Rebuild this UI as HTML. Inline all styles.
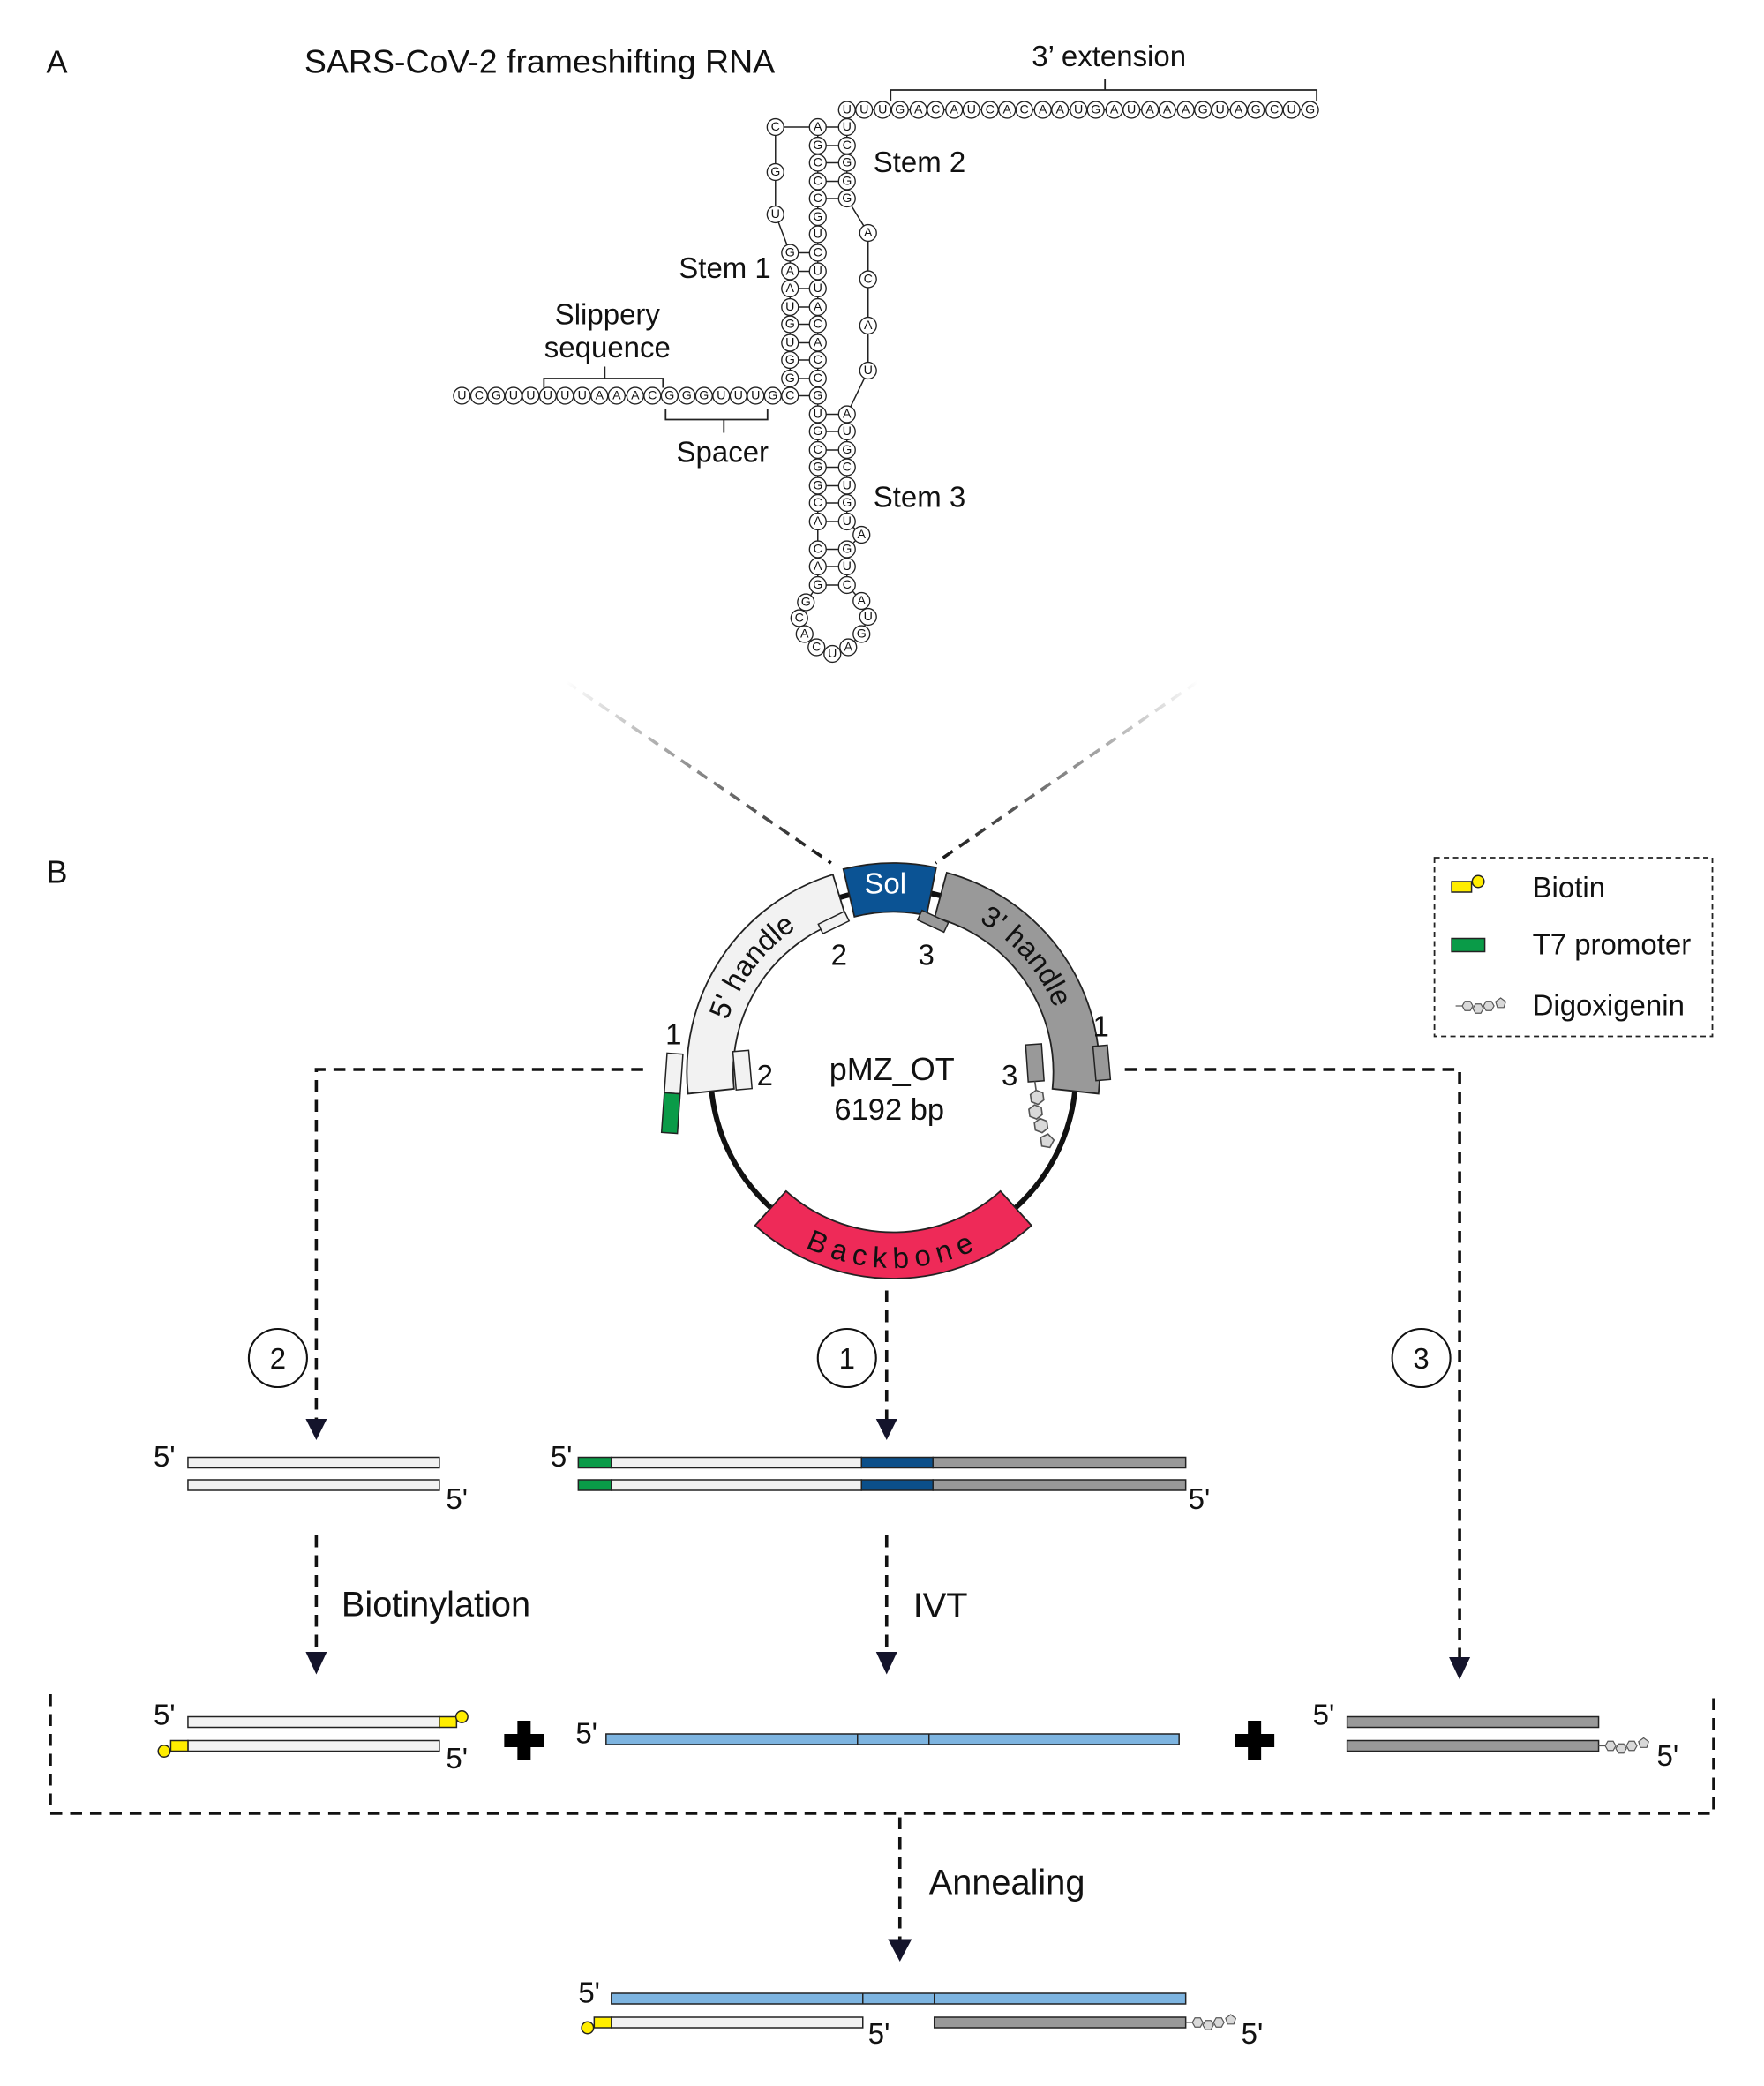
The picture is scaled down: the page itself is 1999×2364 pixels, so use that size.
<!DOCTYPE html>
<html><head><meta charset="utf-8"><style>
html,body{margin:0;padding:0;background:#fff}
svg{display:block}
text{font-family:"Liberation Sans",Arial,sans-serif;fill:#111}
.n circle{fill:#fff;stroke:#222;stroke-width:0.9}
.n text{font-size:9.5px;text-anchor:middle;dominant-baseline:central}
.lb{font-size:22px}
.bg{font-size:26.5px}
.d{fill:none;stroke:#111;stroke-width:2.4;stroke-dasharray:9 6}
</style></head><body>
<svg width="1999" height="2364" viewBox="0 0 1333 1576" preserveAspectRatio="none" xmlns="http://www.w3.org/2000/svg">
<defs>
<g id="dig" fill="#d9d9d9" stroke="#555" stroke-width="0.8">
<line x1="0" y1="0" x2="5" y2="0"/>
<polygon points="13,0 11,3.5 7,3.5 5,0 7,-3.5 11,-3.5"/>
<polygon points="21,2 19,5.5 15,5.5 13,2 15,-1.5 19,-1.5"/>
<polygon points="29,0 27,3.5 23,3.5 21,0 23,-3.5 27,-3.5"/>
<polygon points="34,-6 37.8,-3.2 36.4,1.2 31.6,1.2 30.2,-3.2"/>
</g>
<linearGradient id="gl" x1="428" y1="515" x2="628" y2="652" gradientUnits="userSpaceOnUse"><stop offset="0" stop-color="#fff"/><stop offset="1" stop-color="#111"/></linearGradient>
<linearGradient id="gr" x1="905" y1="515" x2="707" y2="652" gradientUnits="userSpaceOnUse"><stop offset="0" stop-color="#fff"/><stop offset="1" stop-color="#111"/></linearGradient>
<path id="p5" d="M544.7,823.7 A131,131 0 0 1 636.7,684.7"/>
<path id="p3" d="M708.9,683.5 A131,131 0 0 1 805.3,823.7"/>
<path id="pb" d="M576,920 A148,148 0 0 0 774,920"/>
</defs>

<!-- Panel A -->
<text x="35" y="55" style="font-size:24px">A</text>
<text x="230" y="55" style="font-size:25px">SARS-CoV-2 frameshifting RNA</text>
<text x="838" y="50" class="lb" text-anchor="middle">3’ extension</text>
<path d="M673,76 V68 H995 V76 M835,68 V60" fill="none" stroke="#222" stroke-width="1.2"/>
<text x="459" y="245" class="lb" text-anchor="middle">Slippery</text>
<text x="459" y="270" class="lb" text-anchor="middle">sequence</text>
<path d="M411,293 V286 H501 V293 M457,286 V277" fill="none" stroke="#222" stroke-width="1.2"/>
<path d="M503,309 V317 H580 V309 M547,317 V327" fill="none" stroke="#222" stroke-width="1.2"/>
<text x="546" y="349" class="lb" text-anchor="middle">Spacer</text>
<text x="513" y="210" class="lb">Stem 1</text>
<text x="660" y="130" class="lb">Stem 2</text>
<text x="660" y="383" class="lb">Stem 3</text>

<polyline fill="none" stroke="#222" stroke-width="1" points="349,299 597,299 597,191 586,162 586,130 586,96 618,96 618,442 609,455 604,467 608,479 617,489 629,494 641,489 651,479 656,466 651,454 640,442 640,415 651,404 640,394 640,313 656,280 656,176 640,150 640,83 990,83"/>
<path stroke="#222" stroke-width="1" d="M597,191H618M597,205H618M597,218H618M597,232H618M597,245H618M597,259H618M597,272H618M597,286H618M597,299H618M618,96H640M618,110H640M618,123H640M618,137H640M618,150H640M618,313H640M618,326H640M618,340H640M618,353H640M618,367H640M618,380H640M618,394H640M618,415H640M618,428H640M618,442H640"/>
<g class="n">
<circle cx="349" cy="299" r="6.3"/><text x="349" y="299">U</text>
<circle cx="362" cy="299" r="6.3"/><text x="362" y="299">C</text>
<circle cx="375" cy="299" r="6.3"/><text x="375" y="299">G</text>
<circle cx="388" cy="299" r="6.3"/><text x="388" y="299">U</text>
<circle cx="401" cy="299" r="6.3"/><text x="401" y="299">U</text>
<circle cx="414" cy="299" r="6.3"/><text x="414" y="299">U</text>
<circle cx="427" cy="299" r="6.3"/><text x="427" y="299">U</text>
<circle cx="440" cy="299" r="6.3"/><text x="440" y="299">U</text>
<circle cx="453" cy="299" r="6.3"/><text x="453" y="299">A</text>
<circle cx="466" cy="299" r="6.3"/><text x="466" y="299">A</text>
<circle cx="480" cy="299" r="6.3"/><text x="480" y="299">A</text>
<circle cx="493" cy="299" r="6.3"/><text x="493" y="299">C</text>
<circle cx="506" cy="299" r="6.3"/><text x="506" y="299">G</text>
<circle cx="519" cy="299" r="6.3"/><text x="519" y="299">G</text>
<circle cx="532" cy="299" r="6.3"/><text x="532" y="299">G</text>
<circle cx="545" cy="299" r="6.3"/><text x="545" y="299">U</text>
<circle cx="558" cy="299" r="6.3"/><text x="558" y="299">U</text>
<circle cx="571" cy="299" r="6.3"/><text x="571" y="299">U</text>
<circle cx="584" cy="299" r="6.3"/><text x="584" y="299">G</text>
<circle cx="597" cy="299" r="6.3"/><text x="597" y="299">C</text>
<circle cx="597" cy="191" r="6.3"/><text x="597" y="191">G</text>
<circle cx="597" cy="205" r="6.3"/><text x="597" y="205">A</text>
<circle cx="597" cy="218" r="6.3"/><text x="597" y="218">A</text>
<circle cx="597" cy="232" r="6.3"/><text x="597" y="232">U</text>
<circle cx="597" cy="245" r="6.3"/><text x="597" y="245">G</text>
<circle cx="597" cy="259" r="6.3"/><text x="597" y="259">U</text>
<circle cx="597" cy="272" r="6.3"/><text x="597" y="272">G</text>
<circle cx="597" cy="286" r="6.3"/><text x="597" y="286">G</text>
<circle cx="586" cy="162" r="6.3"/><text x="586" y="162">U</text>
<circle cx="586" cy="130" r="6.3"/><text x="586" y="130">G</text>
<circle cx="586" cy="96" r="6.3"/><text x="586" y="96">C</text>
<circle cx="618" cy="96" r="6.3"/><text x="618" y="96">A</text>
<circle cx="618" cy="110" r="6.3"/><text x="618" y="110">G</text>
<circle cx="618" cy="123" r="6.3"/><text x="618" y="123">C</text>
<circle cx="618" cy="137" r="6.3"/><text x="618" y="137">C</text>
<circle cx="618" cy="150" r="6.3"/><text x="618" y="150">C</text>
<circle cx="618" cy="164" r="6.3"/><text x="618" y="164">G</text>
<circle cx="618" cy="177" r="6.3"/><text x="618" y="177">U</text>
<circle cx="618" cy="191" r="6.3"/><text x="618" y="191">C</text>
<circle cx="618" cy="205" r="6.3"/><text x="618" y="205">U</text>
<circle cx="618" cy="218" r="6.3"/><text x="618" y="218">U</text>
<circle cx="618" cy="232" r="6.3"/><text x="618" y="232">A</text>
<circle cx="618" cy="245" r="6.3"/><text x="618" y="245">C</text>
<circle cx="618" cy="259" r="6.3"/><text x="618" y="259">A</text>
<circle cx="618" cy="272" r="6.3"/><text x="618" y="272">C</text>
<circle cx="618" cy="286" r="6.3"/><text x="618" y="286">C</text>
<circle cx="618" cy="299" r="6.3"/><text x="618" y="299">G</text>
<circle cx="618" cy="313" r="6.3"/><text x="618" y="313">U</text>
<circle cx="618" cy="326" r="6.3"/><text x="618" y="326">G</text>
<circle cx="618" cy="340" r="6.3"/><text x="618" y="340">C</text>
<circle cx="618" cy="353" r="6.3"/><text x="618" y="353">G</text>
<circle cx="618" cy="367" r="6.3"/><text x="618" y="367">G</text>
<circle cx="618" cy="380" r="6.3"/><text x="618" y="380">C</text>
<circle cx="618" cy="394" r="6.3"/><text x="618" y="394">A</text>
<circle cx="618" cy="415" r="6.3"/><text x="618" y="415">C</text>
<circle cx="618" cy="428" r="6.3"/><text x="618" y="428">A</text>
<circle cx="618" cy="442" r="6.3"/><text x="618" y="442">G</text>
<circle cx="609" cy="455" r="6.3"/><text x="609" y="455">G</text>
<circle cx="604" cy="467" r="6.3"/><text x="604" y="467">C</text>
<circle cx="608" cy="479" r="6.3"/><text x="608" y="479">A</text>
<circle cx="617" cy="489" r="6.3"/><text x="617" y="489">C</text>
<circle cx="629" cy="494" r="6.3"/><text x="629" y="494">U</text>
<circle cx="641" cy="489" r="6.3"/><text x="641" y="489">A</text>
<circle cx="651" cy="479" r="6.3"/><text x="651" y="479">G</text>
<circle cx="656" cy="466" r="6.3"/><text x="656" y="466">U</text>
<circle cx="651" cy="454" r="6.3"/><text x="651" y="454">A</text>
<circle cx="640" cy="442" r="6.3"/><text x="640" y="442">C</text>
<circle cx="640" cy="428" r="6.3"/><text x="640" y="428">U</text>
<circle cx="640" cy="415" r="6.3"/><text x="640" y="415">G</text>
<circle cx="651" cy="404" r="6.3"/><text x="651" y="404">A</text>
<circle cx="640" cy="394" r="6.3"/><text x="640" y="394">U</text>
<circle cx="640" cy="380" r="6.3"/><text x="640" y="380">G</text>
<circle cx="640" cy="367" r="6.3"/><text x="640" y="367">U</text>
<circle cx="640" cy="353" r="6.3"/><text x="640" y="353">C</text>
<circle cx="640" cy="340" r="6.3"/><text x="640" y="340">G</text>
<circle cx="640" cy="326" r="6.3"/><text x="640" y="326">U</text>
<circle cx="640" cy="313" r="6.3"/><text x="640" y="313">A</text>
<circle cx="656" cy="280" r="6.3"/><text x="656" y="280">U</text>
<circle cx="656" cy="246" r="6.3"/><text x="656" y="246">A</text>
<circle cx="656" cy="211" r="6.3"/><text x="656" y="211">C</text>
<circle cx="656" cy="176" r="6.3"/><text x="656" y="176">A</text>
<circle cx="640" cy="150" r="6.3"/><text x="640" y="150">G</text>
<circle cx="640" cy="137" r="6.3"/><text x="640" y="137">G</text>
<circle cx="640" cy="123" r="6.3"/><text x="640" y="123">G</text>
<circle cx="640" cy="110" r="6.3"/><text x="640" y="110">C</text>
<circle cx="640" cy="96" r="6.3"/><text x="640" y="96">U</text>
<circle cx="640" cy="83" r="6.3"/><text x="640" y="83">U</text>
<circle cx="653" cy="83" r="6.3"/><text x="653" y="83">U</text>
<circle cx="667" cy="83" r="6.3"/><text x="667" y="83">U</text>
<circle cx="680" cy="83" r="6.3"/><text x="680" y="83">G</text>
<circle cx="694" cy="83" r="6.3"/><text x="694" y="83">A</text>
<circle cx="707" cy="83" r="6.3"/><text x="707" y="83">C</text>
<circle cx="721" cy="83" r="6.3"/><text x="721" y="83">A</text>
<circle cx="734" cy="83" r="6.3"/><text x="734" y="83">U</text>
<circle cx="748" cy="83" r="6.3"/><text x="748" y="83">C</text>
<circle cx="761" cy="83" r="6.3"/><text x="761" y="83">A</text>
<circle cx="774" cy="83" r="6.3"/><text x="774" y="83">C</text>
<circle cx="788" cy="83" r="6.3"/><text x="788" y="83">A</text>
<circle cx="801" cy="83" r="6.3"/><text x="801" y="83">A</text>
<circle cx="815" cy="83" r="6.3"/><text x="815" y="83">U</text>
<circle cx="828" cy="83" r="6.3"/><text x="828" y="83">G</text>
<circle cx="842" cy="83" r="6.3"/><text x="842" y="83">A</text>
<circle cx="855" cy="83" r="6.3"/><text x="855" y="83">U</text>
<circle cx="869" cy="83" r="6.3"/><text x="869" y="83">A</text>
<circle cx="882" cy="83" r="6.3"/><text x="882" y="83">A</text>
<circle cx="896" cy="83" r="6.3"/><text x="896" y="83">A</text>
<circle cx="909" cy="83" r="6.3"/><text x="909" y="83">G</text>
<circle cx="922" cy="83" r="6.3"/><text x="922" y="83">U</text>
<circle cx="936" cy="83" r="6.3"/><text x="936" y="83">A</text>
<circle cx="949" cy="83" r="6.3"/><text x="949" y="83">G</text>
<circle cx="963" cy="83" r="6.3"/><text x="963" y="83">C</text>
<circle cx="976" cy="83" r="6.3"/><text x="976" y="83">U</text>
<circle cx="990" cy="83" r="6.3"/><text x="990" y="83">G</text>
</g>

<line x1="428" y1="515" x2="628" y2="652" stroke="url(#gl)" stroke-width="2.4" stroke-dasharray="9 6"/>
<line x1="905" y1="515" x2="707" y2="652" stroke="url(#gr)" stroke-width="2.4" stroke-dasharray="9 6"/>

<text x="35" y="667" style="font-size:24px">B</text>

<circle cx="675" cy="810" r="138" fill="none" stroke="#111" stroke-width="4"/>
<path d="M519.9,826.3 A156,156 0 0 1 629.4,660.8 L639.6,694.3 A121,121 0 0 0 554.7,822.6 Z" fill="#f2f2f2" stroke="#222" stroke-width="1.2"/>
<path d="M637.3,656.6 A158,158 0 0 1 707.4,655.4 L700.2,691.6 A121,121 0 0 0 645.7,692.6 Z" fill="#0b5394" stroke="#222" stroke-width="1.2"/>
<path d="M715.4,659.3 A156,156 0 0 1 830.1,826.3 L795.3,822.6 A121,121 0 0 0 706.3,693.1 Z" fill="#999" stroke="#222" stroke-width="1.2"/>
<path d="M779.4,925.9 A156,156 0 0 1 570.6,925.9 L594,899.9 A121,121 0 0 0 756,899.9 Z" fill="#ee2a58" stroke="#222" stroke-width="1.2"/>
<text x="669" y="675" style="font-size:22px;fill:#fff" text-anchor="middle">Sol</text>
<text style="font-size:22px"><textPath href="#p5" startOffset="54%" text-anchor="middle">5' handle</textPath></text>
<text style="font-size:22px"><textPath href="#p3" startOffset="42%" text-anchor="middle">3' handle</textPath></text>
<text style="font-size:22px;letter-spacing:5px"><textPath href="#pb" startOffset="50%" text-anchor="middle">Backbone</textPath></text>
<text x="674" y="816" style="font-size:24px" text-anchor="middle">pMZ_OT</text>
<text x="672" y="846" style="font-size:23px" text-anchor="middle">6192 bp</text>

<rect x="619" y="693" width="22" height="8" fill="#f2f2f2" stroke="#222" transform="rotate(-26 630 697)"/>
<text x="634" y="729" class="lb" text-anchor="middle">2</text>
<rect x="694" y="692" width="22" height="8" fill="#999" stroke="#222" transform="rotate(25 705 696)"/>
<text x="700" y="729" class="lb" text-anchor="middle">3</text>
<rect x="555" y="794" width="12" height="29" fill="#f2f2f2" stroke="#222" transform="rotate(-5 561 808)"/>
<text x="578" y="820" class="lb" text-anchor="middle">2</text>
<rect x="502" y="796" width="12" height="30" fill="#f2f2f2" stroke="#222" transform="rotate(4 508 826)"/>
<rect x="502" y="826" width="12" height="30" fill="#0a9b48" stroke="#222" transform="rotate(4 508 826)"/>
<text x="509" y="789" class="lb" text-anchor="middle">1</text>
<rect x="827" y="790" width="11" height="26" fill="#999" stroke="#222" transform="rotate(-5 833 803)"/>
<text x="832" y="783" class="lb" text-anchor="middle">1</text>
<rect x="776" y="789" width="12" height="28" fill="#999" stroke="#222" transform="rotate(-4 782 803)"/>
<text x="763" y="820" class="lb" text-anchor="middle">3</text>
<use href="#dig" transform="translate(782,817) rotate(82) scale(1.35)"/>

<rect x="1084" y="648" width="210" height="135" fill="none" stroke="#222" stroke-width="1.2" stroke-dasharray="4 3"/>
<rect x="1097" y="666" width="15" height="8" fill="#ffed00" stroke="#222"/>
<circle cx="1117" cy="666" r="4.5" fill="#ffed00" stroke="#222"/>
<text x="1158" y="678" class="lb">Biotin</text>
<rect x="1097" y="709" width="25" height="10" fill="#0a9b48" stroke="#222"/>
<text x="1158" y="721" class="lb">T7 promoter</text>
<use href="#dig" transform="translate(1100,760)"/>
<text x="1158" y="767" class="lb">Digoxigenin</text>

<path class="d" d="M486,808 H239 V1072"/>
<path class="d" d="M850,808 H1103 V1252"/>
<path class="d" d="M670,975 V1072"/>
<polygon points="231,1072 247,1072 239,1088" fill="#14142b"/>
<polygon points="662,1072 678,1072 670,1088" fill="#14142b"/>
<circle cx="210" cy="1026" r="22" fill="#fff" stroke="#111" stroke-width="1.4"/><text x="210" y="1034" class="lb" text-anchor="middle">2</text>
<circle cx="640" cy="1026" r="22" fill="#fff" stroke="#111" stroke-width="1.4"/><text x="640" y="1034" class="lb" text-anchor="middle">1</text>
<circle cx="1074" cy="1026" r="22" fill="#fff" stroke="#111" stroke-width="1.4"/><text x="1074" y="1034" class="lb" text-anchor="middle">3</text>

<text x="116" y="1108" class="lb">5'</text>
<rect x="142" y="1101" width="190" height="8" fill="#f2f2f2" stroke="#222"/>
<rect x="142" y="1118" width="190" height="8" fill="#f2f2f2" stroke="#222"/>
<text x="337" y="1140" class="lb">5'</text>
<text x="416" y="1108" class="lb">5'</text>
<rect x="437" y="1101" width="25" height="8" fill="#0a9b48" stroke="#222"/>
<rect x="462" y="1101" width="189" height="8" fill="#f2f2f2" stroke="#222"/>
<rect x="651" y="1101" width="54" height="8" fill="#0b4f8a" stroke="#222"/>
<rect x="705" y="1101" width="191" height="8" fill="#999" stroke="#222"/>
<rect x="437" y="1118" width="25" height="8" fill="#0a9b48" stroke="#222"/>
<rect x="462" y="1118" width="189" height="8" fill="#f2f2f2" stroke="#222"/>
<rect x="651" y="1118" width="54" height="8" fill="#0b4f8a" stroke="#222"/>
<rect x="705" y="1118" width="191" height="8" fill="#999" stroke="#222"/>
<text x="898" y="1140" class="lb">5'</text>

<path class="d" d="M239,1160 V1248"/>
<path class="d" d="M670,1160 V1248"/>
<polygon points="231,1248 247,1248 239,1265" fill="#14142b"/>
<polygon points="662,1248 678,1248 670,1265" fill="#14142b"/>
<polygon points="1095,1252 1111,1252 1103,1269" fill="#14142b"/>
<text x="258" y="1221" class="bg">Biotinylation</text>
<text x="690" y="1222" class="bg">IVT</text>

<path class="d" d="M38,1280 V1370 H1295 V1280"/>

<text x="116" y="1303" class="lb">5'</text>
<rect x="142" y="1297" width="190" height="8" fill="#f2f2f2" stroke="#222"/>
<rect x="332" y="1297" width="13" height="8" fill="#ffed00" stroke="#222"/>
<circle cx="349" cy="1297" r="4.5" fill="#ffed00" stroke="#222"/>
<rect x="142" y="1315" width="190" height="8" fill="#f2f2f2" stroke="#222"/>
<rect x="129" y="1315" width="13" height="8" fill="#ffed00" stroke="#222"/>
<circle cx="124" cy="1323" r="4.5" fill="#ffed00" stroke="#222"/>
<text x="337" y="1336" class="lb">5'</text>
<path d="M396,1300 V1330 M381,1315 H411" stroke="#000" stroke-width="10"/>
<text x="435" y="1317" class="lb">5'</text>
<rect x="458" y="1310" width="433" height="8" fill="#7db4e0" stroke="#222"/>
<path d="M648,1310 V1318 M702,1310 V1318" stroke="#222"/>
<path d="M948,1300 V1330 M933,1315 H963" stroke="#000" stroke-width="10"/>
<text x="992" y="1303" class="lb">5'</text>
<rect x="1018" y="1297" width="190" height="8" fill="#999" stroke="#222"/>
<rect x="1018" y="1315" width="190" height="8" fill="#999" stroke="#222"/>
<use href="#dig" transform="translate(1208,1319)"/>
<text x="1252" y="1334" class="lb">5'</text>

<path class="d" d="M680,1373 V1465"/>
<polygon points="671,1465 689,1465 680,1482" fill="#14142b"/>
<text x="702" y="1431" class="bg">Annealing</text>
<text x="437" y="1513" class="lb">5'</text>
<rect x="462" y="1506" width="434" height="8" fill="#7db4e0" stroke="#222"/>
<path d="M652,1506 V1514 M706,1506 V1514" stroke="#222"/>
<rect x="462" y="1524" width="190" height="8" fill="#f2f2f2" stroke="#222"/>
<rect x="449" y="1524" width="13" height="8" fill="#ffed00" stroke="#222"/>
<circle cx="444" cy="1532" r="4.5" fill="#ffed00" stroke="#222"/>
<text x="656" y="1544" class="lb">5'</text>
<rect x="706" y="1524" width="190" height="8" fill="#999" stroke="#222"/>
<use href="#dig" transform="translate(896,1528)"/>
<text x="938" y="1544" class="lb">5'</text>
</svg>
</body></html>
